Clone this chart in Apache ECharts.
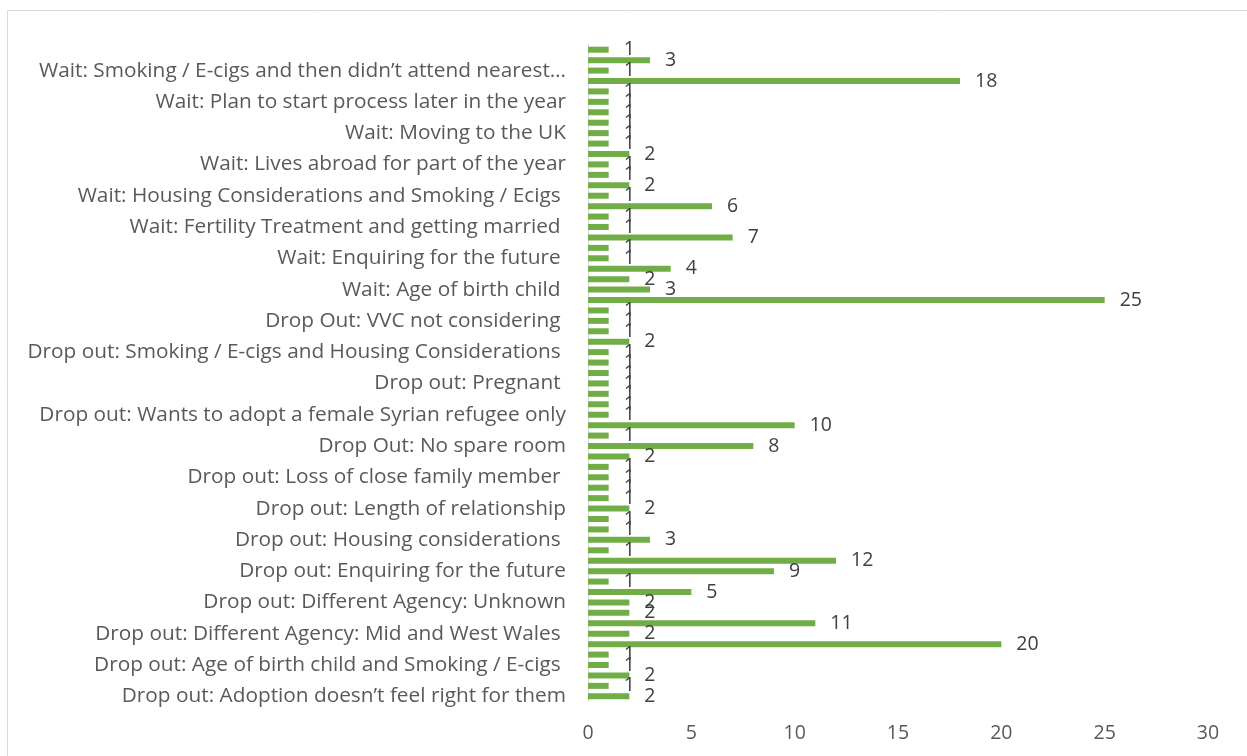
<!DOCTYPE html>
<html>
<head>
<meta charset="utf-8">
<script src="https://cdn.jsdelivr.net/npm/echarts@6/dist/echarts.min.js"></script>
<style>
    html, body { margin: 0; padding: 0; background: #fff; }
    #chart { width: 1247px; height: 756px; }
</style>
</head>
<body>
<div id="chart"></div>
<script>
// categories bottom -> top, only every third one is labelled in the source
const categories = [
    "Drop out: Adoption doesn\u2019t feel right for them", "", "",
    "Drop out: Age of birth child and Smoking / E-cigs ", "", "",
    "Drop out: Different Agency: Mid and West Wales ", "", "",
    "Drop out: Different Agency: Unknown", "", "",
    "Drop out: Enquiring for the future", "", "",
    "Drop out: Housing considerations ", "", "",
    "Drop out: Length of relationship", "", "",
    "Drop out: Loss of close family member ", "", "",
    "Drop Out: No spare room", "", "",
    "Drop out: Wants to adopt a female Syrian refugee only", "", "",
    "Drop out: Pregnant ", "", "",
    "Drop out: Smoking / E-cigs and Housing Considerations ", "", "",
    "Drop Out: VVC not considering ", "", "",
    "Wait: Age of birth child ", "", "",
    "Wait: Enquiring for the future ", "", "",
    "Wait: Fertility Treatment and getting married ", "", "",
    "Wait: Housing Considerations and Smoking / Ecigs ", "", "",
    "Wait: Lives abroad for part of the year", "", "",
    "Wait: Moving to the UK", "", "",
    "Wait: Plan to start process later in the year", "", "",
    "Wait: Smoking / E-cigs and then didn\u2019t attend nearest\u2026", "", ""
];

const values = [
    2, 1, 2, 1, 1, 20, 2, 11, 2, 2,
    5, 1, 9, 12, 1, 3, 1, 1, 2, 1,
    1, 1, 1, 2, 8, 1, 10, 1, 1, 1,
    1, 1, 1, 1, 2, 1, 1, 1, 25, 3,
    2, 4, 1, 1, 7, 1, 1, 6, 1, 2,
    1, 1, 2, 1, 1, 1, 1, 1, 1, 18,
    1, 3, 1
];

const xTicks = { min: 0, max: 30, step: 5 };

const chart = echarts.init(document.getElementById("chart"));

const font = "'Open Sans', Lato, sans-serif";

let options = {
    animation: false,
    grid: {
        left: 588,
        right: 39,
        top: 44.5,
        bottom: 54.5,
        containLabel: false,
    },
    graphic: [
        {
            type: "rect",
            shape: { x: 7.5, y: 10.5, width: 1300, height: 800 },
            style: { fill: "none", stroke: "#d9d9d9", lineWidth: 1 },
            silent: true,
        },
    ],
    xAxis: {
        type: "value",
        min: xTicks.min,
        max: xTicks.max,
        interval: xTicks.step,
        splitLine: { show: false },
        axisLine: { show: false },
        axisTick: { show: false },
        axisLabel: {
            color: "#595959",
            fontSize: 19.5,
            fontFamily: font,
            margin: 22,
        },
    },
    yAxis: {
        type: "category",
        data: categories,
        axisTick: { show: false },
        axisLine: {
            show: true,
            lineStyle: { color: "#d9d9d9", width: 1 },
        },
        axisLabel: {
            interval: 2, // excel skips two of every three labels
            color: "#595959",
            fontSize: 20.8,
            fontFamily: font,
            margin: 22,
            lineHeight: 24,
            padding: [4, 0, 0, 0],
        },
    },
    series: [
        {
            type: "bar",
            data: values,
            barWidth: 6,
            itemStyle: { color: "#70ad47" },
            label: {
                show: true,
                position: "right",
                distance: 15,
                color: "#404040",
                fontSize: 19.5,
                fontFamily: font,
                formatter: "{c}",
            },
        },
    ],
};

chart.setOption(options);
</script>
</body>
</html>
